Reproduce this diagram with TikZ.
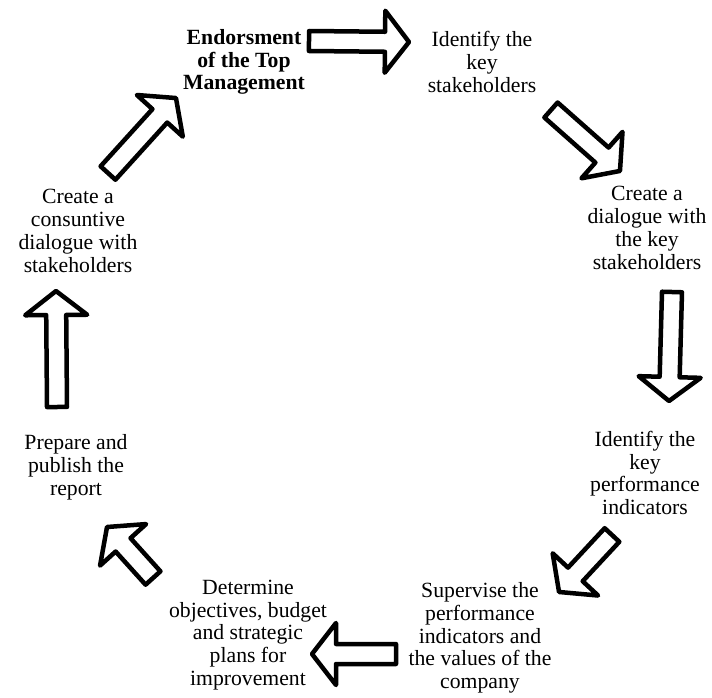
\documentclass[tikz,border=0pt]{standalone}
\usepackage{fontspec}
\setmainfont{Liberation Serif}
\newcommand\blockarrow[2]{%
  \pgfpointdiff{\pgfpointanchor{#1}{center}}{\pgfpointanchor{#2}{center}}%
  \pgfgetlastxy{\bAdx}{\bAdy}%
  \pgfmathsetmacro\bAang{atan2(\bAdy,\bAdx)}%
  \pgfmathsetmacro\bAlen{veclen(\bAdx,\bAdy)}%
  \pgfmathsetmacro\bAbase{\bAlen-24}%
  \begin{scope}[shift={(#1)},rotate=\bAang]
    \draw[barrow] (0,-10) -- (\bAbase,-10) -- (\bAbase,-31) -- (\bAlen,0)
      -- (\bAbase,31) -- (\bAbase,10) -- (0,10) -- cycle;
  \end{scope}}
\begin{document}
\begin{tikzpicture}[x=1pt,y=-1pt,
  lbl/.style={align=center, font=\fontsize{21.7}{22.8}\selectfont, inner sep=0pt},
  barrow/.style={draw=black, fill=white, line width=4.5pt, line join=round}]
\useasboundingbox[fill=white] (0,0) rectangle (712,698);

% labels
\node[lbl, font=\fontsize{21.7}{22.8}\selectfont\bfseries] (n1) at (244,62) {Endorsment\\of the Top\\Management};
\node[lbl] (n2) at (482,62) {Identify the\\key\\stakeholders};
\node[lbl] (n3) at (647,228) {Create a\\dialogue with\\the key\\stakeholders};
\node[lbl] (n4) at (645,473) {Identify the\\key\\performance\\indicators};
\node[lbl] (n5) at (480,638) {Supervise the\\performance\\indicators and\\the values of the\\company};
\node[lbl] (n6) at (248,635) {Determine\\objectives, budget\\and strategic\\plans for\\improvement};
\node[lbl] (n7) at (76,467) {Prepare and\\publish the\\report};
\node[lbl] (n8) at (78,231) {Create a\\consuntive\\dialogue with\\stakeholders};

% arrow end points
\coordinate (a1s) at (309,41);  \coordinate (a1e) at (409,42);
\coordinate (a2s) at (551,110); \coordinate (a2e) at (620,171);
\coordinate (a3s) at (672,292); \coordinate (a3e) at (669,401);
\coordinate (a4s) at (612,535); \coordinate (a4e) at (559,592);
\coordinate (a5s) at (396,654); \coordinate (a5e) at (312,654);
\coordinate (a6s) at (153,578); \coordinate (a6e) at (107,527);
\coordinate (a7s) at (57,407);  \coordinate (a7e) at (56,291);
\coordinate (a8s) at (108,173); \coordinate (a8e) at (176,98);

\blockarrow{a1s}{a1e}
\blockarrow{a2s}{a2e}
\blockarrow{a3s}{a3e}
\blockarrow{a4s}{a4e}
\blockarrow{a5s}{a5e}
\blockarrow{a6s}{a6e}
\blockarrow{a7s}{a7e}
\blockarrow{a8s}{a8e}
\end{tikzpicture}
\end{document}
